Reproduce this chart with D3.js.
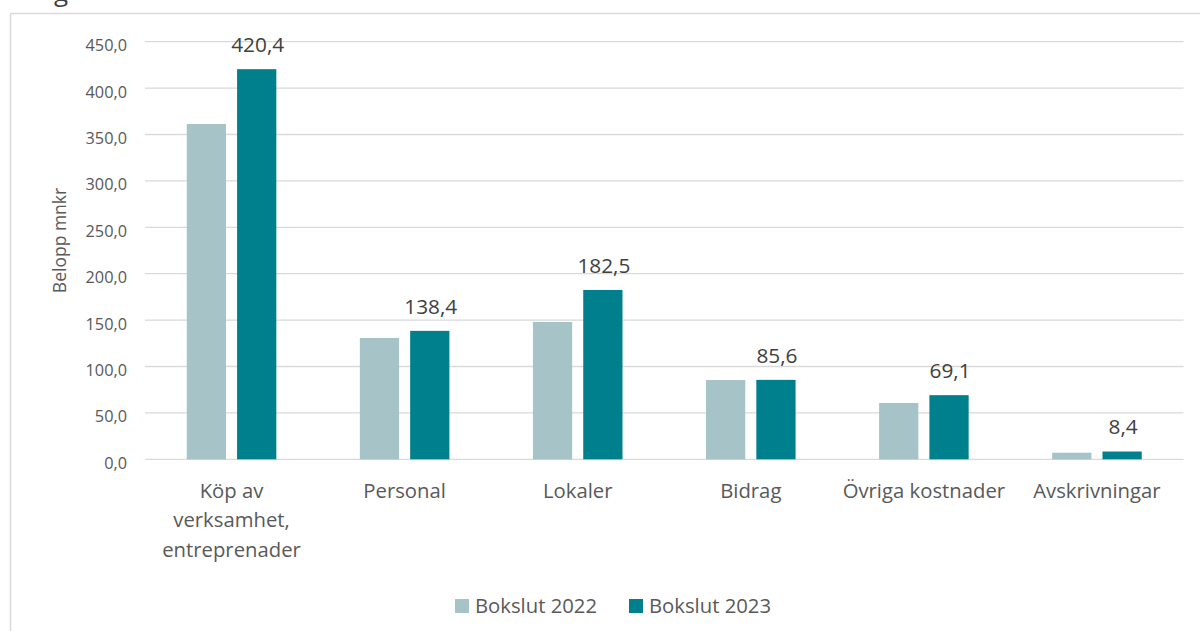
<!DOCTYPE html>
<html>
<head>
<meta charset="utf-8">
<script src="https://cdn.jsdelivr.net/npm/d3@7"></script>
<style>
  body { margin: 0; background: #fff; }
  text { font-family: "Open Sans", "Noto Sans", sans-serif; }
</style>
</head>
<body>
<svg id="drawing_region"></svg>
<script>
const categories = ['Köp av verksamhet, entreprenader', 'Personal', 'Lokaler', 'Bidrag', 'Övriga kostnader', 'Avskrivningar'];
const category_lines = [['Köp av', 'verksamhet,', 'entreprenader'], ['Personal'], ['Lokaler'], ['Bidrag'], ['Övriga kostnader'], ['Avskrivningar']];
const series = ['Bokslut 2022', 'Bokslut 2023'];
const values_2022 = [361.3, 130.7, 148.0, 85.4, 60.7, 7.1];
const values_2023 = [420.4, 138.4, 182.5, 85.6, 69.1, 8.4];
const y_ticks = [0, 50, 100, 150, 200, 250, 300, 350, 400, 450];
const colors = ['#A6C3C8', '#00808C'];

const data = categories.map((c, i) => ({ cat: c, lines: category_lines[i], v: [values_2022[i], values_2023[i]] }));

const width = 1200, height = 631;
const margin = {top: 41.7, right: 16.5, bottom: 171.7, left: 145};
const inner_width = width - margin.left - margin.right;
const inner_height = height - margin.top - margin.bottom;

const locale = d3.formatLocale({decimal: ',', thousands: ' ', grouping: [3], currency: ['', ' kr']});
const fmt = locale.format('.1f');

const svg = d3.select('#drawing_region')
    .attr('width', width)
    .attr('height', height);

// outer frame (cropped)
svg.append('rect')
    .attr('x', 10.5).attr('y', 13.5)
    .attr('width', 1300).attr('height', 800)
    .attr('fill', 'none')
    .attr('stroke', '#d9d9d9')
    .attr('stroke-width', 1.5);

// cut off title descender
svg.append('text')
    .attr('x', 54).attr('y', 1)
    .style('font-size', '26px')
    .attr('fill', '#404040')
    .text('g');

const chart = svg.append('g')
    .attr('transform', `translate(${margin.left}, ${margin.top})`);

const xscale = d3.scaleBand()
    .domain(categories)
    .range([0, inner_width]);

const xinner = d3.scaleBand()
    .domain(series)
    .range([0, xscale.bandwidth()])
    .paddingInner(0.22)
    .paddingOuter(0.83);

const yscale = d3.scaleLinear()
    .domain([0, 450])
    .range([inner_height, 0]);

// gridlines
chart.append('g')
    .selectAll('line')
    .data(y_ticks)
    .join('line')
    .attr('x1', 0).attr('x2', inner_width)
    .attr('y1', d => yscale(d)).attr('y2', d => yscale(d))
    .attr('stroke', '#d9d9d9')
    .attr('stroke-width', 1.3);

// y axis labels
const yaxis = d3.axisLeft(yscale)
    .tickValues(y_ticks)
    .tickSize(0)
    .tickPadding(18)
    .tickFormat(d => fmt(d));

const yaxis_group = chart.append('g').call(yaxis);
yaxis_group.select('.domain').remove();
yaxis_group.selectAll('text')
    .attr('fill', '#595959')
    .attr('dy', '0.55em')
    .style('font-size', '16.3px')
    .style('font-family', '"Open Sans", sans-serif');

// bars
const groups = chart.selectAll('.grp')
    .data(data)
    .join('g')
    .attr('class', 'grp')
    .attr('transform', d => `translate(${xscale(d.cat)}, 0)`);

groups.selectAll('rect')
    .data(d => d.v.map((v, j) => ({ s: series[j], v: v, j: j })))
    .join('rect')
    .attr('x', d => xinner(d.s))
    .attr('y', d => yscale(d.v))
    .attr('width', xinner.bandwidth())
    .attr('height', d => inner_height - yscale(d.v))
    .attr('fill', d => colors[d.j]);

// data labels (2023 only)
groups.append('text')
    .attr('x', d => xinner(series[1]) + xinner.bandwidth() / 2 + 1)
    .attr('y', d => yscale(d.v[1]) - 17)
    .attr('text-anchor', 'middle')
    .attr('fill', '#404040')
    .style('font-size', '20.8px')
    .text(d => fmt(d.v[1]));

// category labels
const xaxis_group = chart.append('g')
    .attr('transform', `translate(0, ${inner_height})`);

xaxis_group.selectAll('text')
    .data(data)
    .join('text')
    .attr('x', d => xscale(d.cat) + xscale.bandwidth() / 2)
    .attr('y', 38.5)
    .attr('text-anchor', 'middle')
    .attr('fill', '#595959')
    .style('font-size', '20.3px')
    .selectAll('tspan')
    .data(d => d.lines)
    .join('tspan')
    .attr('x', function () { return d3.select(this.parentNode).attr('x'); })
    .attr('dy', (d, i) => i === 0 ? 0 : 29.5)
    .text(d => d);

// y axis title
svg.append('text')
    .attr('transform', `translate(66, ${margin.top + inner_height / 2 - 10}) rotate(-90)`)
    .attr('text-anchor', 'middle')
    .attr('fill', '#595959')
    .style('font-size', '17.5px')
    .text('Belopp mnkr');

// legend
const legend_x = [455, 629];
const legend = svg.append('g');
series.forEach((s, i) => {
    legend.append('rect')
        .attr('x', legend_x[i]).attr('y', 599)
        .attr('width', 14).attr('height', 14)
        .attr('fill', colors[i]);
    legend.append('text')
        .attr('x', legend_x[i] + 20).attr('y', 613)
        .attr('fill', '#595959')
        .style('font-size', '20.3px')
        .text(s);
});
</script>
</body>
</html>
